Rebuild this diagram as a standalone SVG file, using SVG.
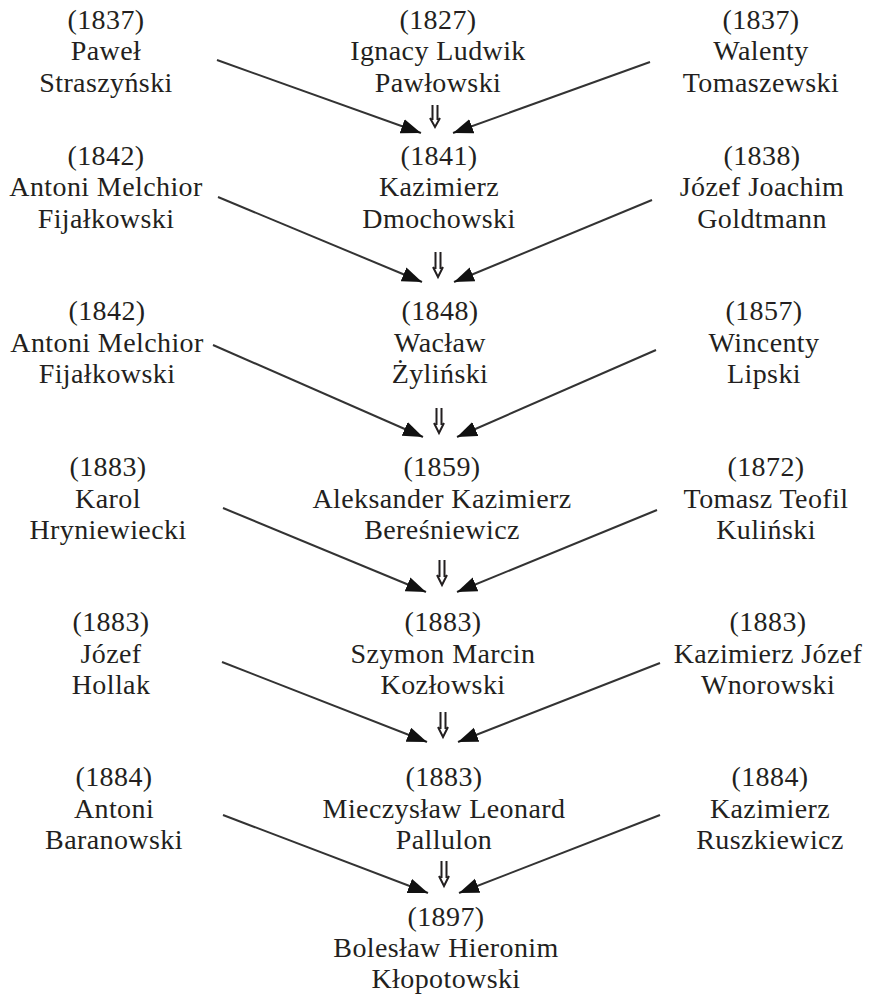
<svg xmlns="http://www.w3.org/2000/svg" width="869" height="999" viewBox="0 0 869 999">
  <style>
    text { font-family: "Liberation Serif", "Times New Roman", serif; font-size: 28px; fill: #231f20; text-anchor: middle; letter-spacing: 0.4px; }
    .link { stroke: #333; stroke-width: 2; fill: none; marker-end: url(#head); }
    .succ { stroke: #231f20; stroke-width: 2; fill: none; }
  </style>
  <defs>
    <marker id="head" markerUnits="userSpaceOnUse" markerWidth="22" markerHeight="16" refX="20" refY="7.5" orient="auto">
      <path d="M0,0 L20,7.5 L0,15 z" fill="#111"/>
    </marker>
  </defs>

  <!-- row 1 -->
  <g id="n1L"><text x="106" y="28.5">(1837)</text><text x="106" y="60">Paweł</text><text x="106" y="91.5">Straszyński</text></g>
  <g id="n1C"><text x="438" y="28.5">(1827)</text><text x="438" y="60">Ignacy Ludwik</text><text x="438" y="91.5">Pawłowski</text></g>
  <g id="n1R"><text x="761" y="28.5">(1837)</text><text x="761" y="60">Walenty</text><text x="761" y="91.5">Tomaszewski</text></g>

  <!-- row 2 -->
  <g id="n2L"><text x="106" y="164.5">(1842)</text><text x="106" y="196">Antoni Melchior</text><text x="106" y="227.5">Fijałkowski</text></g>
  <g id="n2C"><text x="439" y="164.5">(1841)</text><text x="439" y="196">Kazimierz</text><text x="439" y="227.5">Dmochowski</text></g>
  <g id="n2R"><text x="762" y="164.5">(1838)</text><text x="762" y="196">Józef Joachim</text><text x="762" y="227.5">Goldtmann</text></g>

  <!-- row 3 -->
  <g id="n3L"><text x="107" y="320">(1842)</text><text x="107" y="351.5">Antoni Melchior</text><text x="107" y="383">Fijałkowski</text></g>
  <g id="n3C"><text x="440" y="320">(1848)</text><text x="440" y="351.5">Wacław</text><text x="440" y="383">Żyliński</text></g>
  <g id="n3R"><text x="764" y="320">(1857)</text><text x="764" y="351.5">Wincenty</text><text x="764" y="383">Lipski</text></g>

  <!-- row 4 -->
  <g id="n4L"><text x="108" y="476">(1883)</text><text x="108" y="507.5">Karol</text><text x="108" y="539">Hryniewiecki</text></g>
  <g id="n4C"><text x="442" y="476">(1859)</text><text x="442" y="507.5">Aleksander Kazimierz</text><text x="442" y="539">Bereśniewicz</text></g>
  <g id="n4R"><text x="766" y="476">(1872)</text><text x="766" y="507.5">Tomasz Teofil</text><text x="766" y="539">Kuliński</text></g>

  <!-- row 5 -->
  <g id="n5L"><text x="111" y="631">(1883)</text><text x="111" y="662.5">Józef</text><text x="111" y="694">Hollak</text></g>
  <g id="n5C"><text x="443" y="631">(1883)</text><text x="443" y="662.5">Szymon Marcin</text><text x="443" y="694">Kozłowski</text></g>
  <g id="n5R"><text x="768" y="631">(1883)</text><text x="768" y="662.5">Kazimierz Józef</text><text x="768" y="694">Wnorowski</text></g>

  <!-- row 6 -->
  <g id="n6L"><text x="114" y="786">(1884)</text><text x="114" y="817.5">Antoni</text><text x="114" y="849">Baranowski</text></g>
  <g id="n6C"><text x="444" y="786">(1883)</text><text x="444" y="817.5">Mieczysław Leonard</text><text x="444" y="849">Pallulon</text></g>
  <g id="n6R"><text x="770" y="786">(1884)</text><text x="770" y="817.5">Kazimierz</text><text x="770" y="849">Ruszkiewicz</text></g>

  <!-- final -->
  <g id="n7C"><text x="446" y="925.5">(1897)</text><text x="446" y="957">Bolesław Hieronim</text><text x="446" y="988">Kłopotowski</text></g>

  <g id="connectors">
    <line class="link" x1="217" y1="60" x2="421" y2="133"/>
    <line class="link" x1="650" y1="62" x2="453" y2="133"/>
    <path class="succ" d="M432.5,105 V120 M437.5,105 V120 M430,118 L435,127 L440,118"/>

    <line class="link" x1="218" y1="197" x2="422" y2="282"/>
    <line class="link" x1="652" y1="200" x2="454" y2="282"/>
    <path class="succ" d="M435.5,252 V269 M440.5,252 V269 M433,267 L438,277 L443,267"/>

    <line class="link" x1="213" y1="345" x2="423" y2="437"/>
    <line class="link" x1="656" y1="350" x2="457" y2="437"/>
    <path class="succ" d="M436.5,408 V425 M441.5,408 V425 M434,423 L439,433 L444,423"/>

    <line class="link" x1="223" y1="508" x2="426" y2="592"/>
    <line class="link" x1="657" y1="510" x2="457" y2="592"/>
    <path class="succ" d="M439.5,560 V577 M444.5,560 V577 M437,575 L442,585 L447,575"/>

    <line class="link" x1="222" y1="662" x2="427" y2="742"/>
    <line class="link" x1="660" y1="663" x2="458" y2="742"/>
    <path class="succ" d="M440.5,712 V729 M445.5,712 V729 M438,727 L443,737 L448,727"/>

    <line class="link" x1="223" y1="815" x2="428" y2="893"/>
    <line class="link" x1="660" y1="815" x2="459" y2="893"/>
    <path class="succ" d="M441.5,861 V878 M446.5,861 V878 M439,876 L444,886 L449,876"/>
  </g>
</svg>
